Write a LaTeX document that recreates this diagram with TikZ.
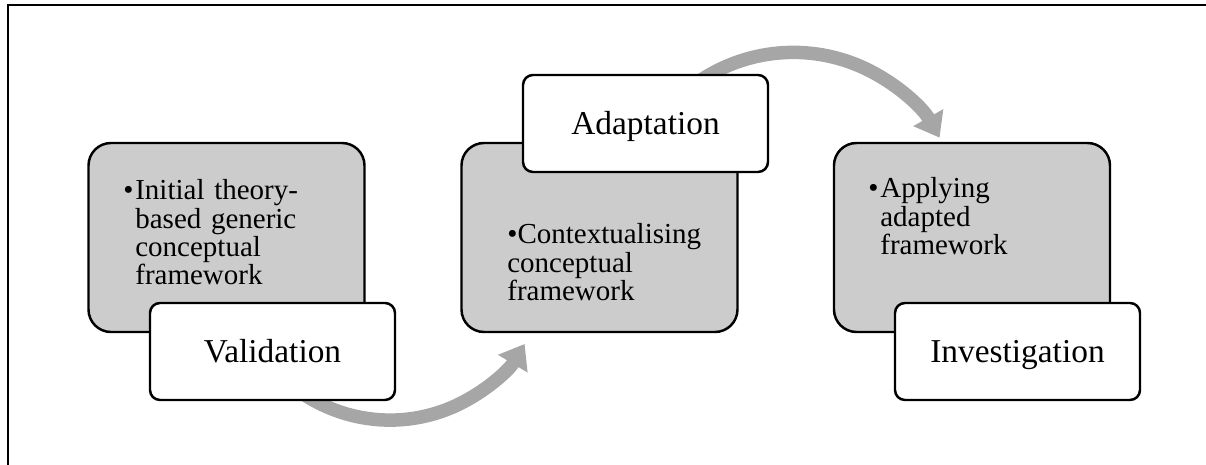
\documentclass[tikz,border=0pt]{standalone}
\usepackage{fontspec}
\setmainfont{Liberation Serif}
\usetikzlibrary{arrows.meta,backgrounds}
\definecolor{boxgray}{HTML}{CCCCCC}
\definecolor{arcgray}{HTML}{A6A6A6}
\tikzset{
  stagebox/.style={shape=rectangle, draw, line width=1.4pt, fill=boxgray, rounded corners=0.45cm, inner sep=0, minimum width=5.52cm, minimum height=3.78cm},
  tagbox/.style={shape=rectangle, draw, line width=1.4pt, fill=white, rounded corners=0.2cm, inner sep=0, minimum width=4.9cm, minimum height=1.94cm, font=\fontsize{19}{22}\selectfont, text height=12.6pt, text depth=0pt},
  itemtext/.style={anchor=base west, align=left, text width=5cm, inner sep=0, font=\fontsize{16.5}{16}\selectfont},
  flowarc/.style={draw=arcgray, line width=0.27cm, -{Triangle[length=0.46cm, width=0.66cm]}}
}
\begin{document}
\begin{tikzpicture}
          \useasboundingbox (0, 0) rectangle (24.12, 9.3);
          % frame, boxes and bent arrows:
          \draw[line width=1.3pt] (0.16, 0) -- (0.16, 9.2) -- (24.12, 9.2);
          \node[stagebox] (initial) at (4.53, 4.55){} node [itemtext] (initialtxt) at (2.70, 5.30){\llap{\textbullet\hspace{1pt}}Initial theory-\\based generic\\conceptual\\framework};
          \node[stagebox] (context) at (11.99, 4.55){} node [itemtext] (contexttxt) at (10.14, 4.42){\textbullet Contextualising\\conceptual\\framework};
          \node[stagebox] (apply) at (19.44, 4.55){} node [itemtext] (applytxt) at (17.60, 5.34){\llap{\textbullet\hspace{1pt}}Applying\\adapted\\framework};
          \node[tagbox] (valid) at (5.45, 2.27){Validation};
          \node[tagbox] (adapt) at (12.91, 6.83){Adaptation};
          \node[tagbox] (invest) at (20.35, 2.27){Investigation};
          \begin{pgfonlayer}{background}
            \draw[flowarc] ([xshift=0.55cm, yshift=0.19cm]valid.south) arc[start angle=235, end angle=329, radius=3.14cm];
            \draw[flowarc] ([xshift=1.03cm, yshift=-0.18cm]adapt.north) arc[start angle=125, end angle=29.5, radius=3.36cm];
          \end{pgfonlayer}
        \end{tikzpicture}
\end{document}
